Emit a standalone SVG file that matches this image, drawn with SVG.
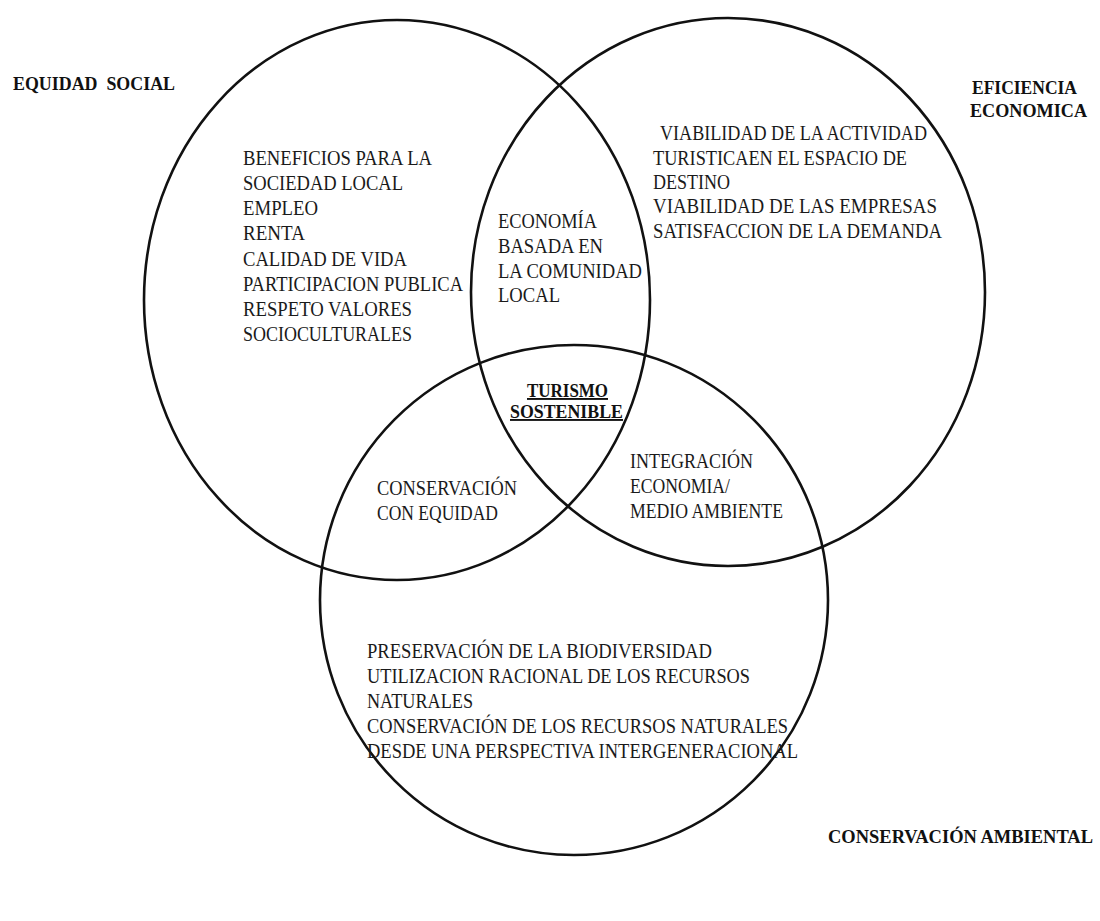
<svg xmlns="http://www.w3.org/2000/svg" width="1100" height="921" viewBox="0 0 1100 921">
<style>
.c{fill:none;stroke:#111;stroke-width:2.6}
.t{font-family:"Liberation Serif","Times New Roman",serif;font-size:20px;fill:#1a1a1a}
.b{font-family:"Liberation Serif","Times New Roman",serif;font-size:19px;font-weight:bold;fill:#111}
.u{text-decoration:underline}
</style>
<rect width="1100" height="921" fill="#fff"/>
<g id="circle-equidad"><ellipse class="c" cx="397" cy="300" rx="253" ry="280"/></g>
<g id="circle-eficiencia"><ellipse class="c" cx="728" cy="292" rx="257" ry="274"/></g>
<g id="circle-conservacion"><ellipse class="c" cx="574" cy="600" rx="254" ry="255"/></g>
<g id="label-equidad"><text class="b" x="13" y="90" textLength="162" lengthAdjust="spacingAndGlyphs" xml:space="preserve">EQUIDAD  SOCIAL</text></g>
<g id="label-eficiencia"><text class="b" x="972" y="94" textLength="105" lengthAdjust="spacingAndGlyphs">EFICIENCIA</text><text class="b" x="970" y="117" textLength="117" lengthAdjust="spacingAndGlyphs">ECONOMICA</text></g>
<g id="label-conservacion"><text class="b" x="828" y="843" textLength="265" lengthAdjust="spacingAndGlyphs">CONSERVACIÓN AMBIENTAL</text></g>
<g id="social-list">
<text class="t" x="243" y="165" textLength="189" lengthAdjust="spacingAndGlyphs">BENEFICIOS PARA LA</text>
<text class="t" x="243" y="190" textLength="160" lengthAdjust="spacingAndGlyphs">SOCIEDAD LOCAL</text>
<text class="t" x="243" y="215" textLength="75" lengthAdjust="spacingAndGlyphs">EMPLEO</text>
<text class="t" x="243" y="240" textLength="62" lengthAdjust="spacingAndGlyphs">RENTA</text>
<text class="t" x="243" y="266" textLength="164" lengthAdjust="spacingAndGlyphs">CALIDAD DE VIDA</text>
<text class="t" x="243" y="291" textLength="220" lengthAdjust="spacingAndGlyphs">PARTICIPACION PUBLICA</text>
<text class="t" x="243" y="316" textLength="169" lengthAdjust="spacingAndGlyphs">RESPETO VALORES</text>
<text class="t" x="243" y="341" textLength="169" lengthAdjust="spacingAndGlyphs">SOCIOCULTURALES</text>
</g>
<g id="economia-comunidad">
<text class="t" x="498" y="228" textLength="99" lengthAdjust="spacingAndGlyphs">ECONOMÍA</text>
<text class="t" x="498" y="253" textLength="105" lengthAdjust="spacingAndGlyphs">BASADA EN</text>
<text class="t" x="498" y="278" textLength="144" lengthAdjust="spacingAndGlyphs">LA COMUNIDAD</text>
<text class="t" x="498" y="302" textLength="62" lengthAdjust="spacingAndGlyphs">LOCAL</text>
</g>
<g id="eficiencia-list">
<text class="t" x="660" y="140" textLength="267" lengthAdjust="spacingAndGlyphs">VIABILIDAD DE LA ACTIVIDAD</text>
<text class="t" x="653" y="165" textLength="254" lengthAdjust="spacingAndGlyphs">TURISTICAEN EL ESPACIO DE</text>
<text class="t" x="653" y="189" textLength="77" lengthAdjust="spacingAndGlyphs">DESTINO</text>
<text class="t" x="653" y="213" textLength="284" lengthAdjust="spacingAndGlyphs">VIABILIDAD DE LAS EMPRESAS</text>
<text class="t" x="653" y="238" textLength="289" lengthAdjust="spacingAndGlyphs">SATISFACCION DE LA DEMANDA</text>
</g>
<g id="turismo-sostenible">
<text class="b u" x="527" y="397" textLength="81" lengthAdjust="spacingAndGlyphs">TURISMO</text>
<text class="b u" x="510" y="418" textLength="113" lengthAdjust="spacingAndGlyphs">SOSTENIBLE</text>
</g>
<g id="conservacion-equidad">
<text class="t" x="377" y="495" textLength="140" lengthAdjust="spacingAndGlyphs">CONSERVACIÓN</text>
<text class="t" x="377" y="520" textLength="121" lengthAdjust="spacingAndGlyphs">CON EQUIDAD</text>
</g>
<g id="integracion">
<text class="t" x="630" y="468" textLength="123" lengthAdjust="spacingAndGlyphs">INTEGRACIÓN</text>
<text class="t" x="630" y="493" textLength="100" lengthAdjust="spacingAndGlyphs">ECONOMIA/</text>
<text class="t" x="630" y="518" textLength="153" lengthAdjust="spacingAndGlyphs">MEDIO AMBIENTE</text>
</g>
<g id="ambiental-list">
<text class="t" x="367" y="658" textLength="345" lengthAdjust="spacingAndGlyphs">PRESERVACIÓN DE LA BIODIVERSIDAD</text>
<text class="t" x="367" y="683" textLength="383" lengthAdjust="spacingAndGlyphs">UTILIZACION RACIONAL DE LOS RECURSOS</text>
<text class="t" x="367" y="708" textLength="106" lengthAdjust="spacingAndGlyphs">NATURALES</text>
<text class="t" x="367" y="733" textLength="421" lengthAdjust="spacingAndGlyphs">CONSERVACIÓN DE LOS RECURSOS NATURALES</text>
<text class="t" x="367" y="758" textLength="431" lengthAdjust="spacingAndGlyphs">DESDE UNA PERSPECTIVA INTERGENERACIONAL</text>
</g>
<g id="connectors"/>
</svg>
